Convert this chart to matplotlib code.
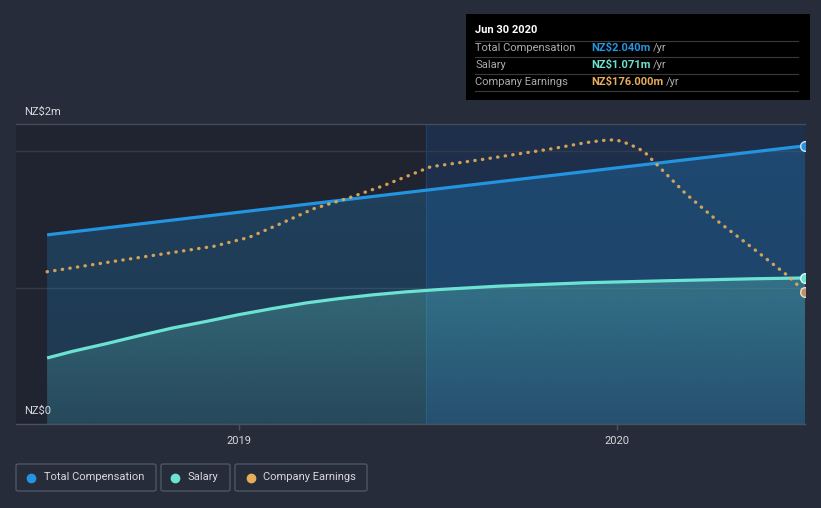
import matplotlib
matplotlib.use("Agg")
import matplotlib.pyplot as plt
import matplotlib.dates as mdates
import matplotlib.colors as mcolors
import numpy as np
import pandas as pd
from matplotlib.patches import FancyBboxPatch

# ---------------- data ----------------
total_dates = ["2018-06-30", "2019-06-30", "2020-06-30"]
total_values = [1.387, 1.714, 2.040]  # NZ$ m

salary_dates = ["2018-06-30", "2018-07-24", "2018-08-26", "2018-09-27", "2018-10-29",
                "2018-12-01", "2019-01-01", "2019-02-02", "2019-03-07", "2019-04-08",
                "2019-05-10", "2019-06-11", "2019-07-13", "2019-09-09", "2019-12-02",
                "2020-02-20", "2020-05-11", "2020-06-30"]
salary_values = [0.484, 0.532, 0.589, 0.648, 0.704, 0.753, 0.802, 0.846, 0.888, 0.920,
                 0.947, 0.969, 0.986, 1.011, 1.036, 1.051, 1.065, 1.071]

earn_dates = ["2018-06-30", "2018-09-03", "2018-12-08", "2019-01-11", "2019-02-10",
              "2019-03-14", "2019-04-16", "2019-05-19", "2019-07-05", "2019-08-25",
              "2019-10-30", "2019-12-01", "2019-12-17", "2019-12-30", "2020-01-07",
              "2020-01-19", "2020-01-27", "2020-02-03", "2020-03-07", "2020-04-09",
              "2020-05-12", "2020-06-14", "2020-06-30"]
earn_values = [203, 217, 237, 249, 267, 287, 301, 317, 343, 353, 367, 375, 378, 379, 376,
               369, 363, 353, 307, 268, 233, 197, 176]  # NZ$ m

y_tick_labels = ["NZ$0", "NZ$2m"]
x_ticks = ["2019-01-01", "2020-01-01"]
x_tick_labels = ["2019", "2020"]
legend_labels = ["Total Compensation", "Salary", "Company Earnings"]
tooltip_title = "Jun 30 2020"
tooltip_rows = [("Total Compensation", "NZ$2.040m"), ("Salary", "NZ$1.071m"),
                ("Company Earnings", "NZ$176.000m")]

# ---------------- style ----------------
BG = "#262c39"
PLOT_BG = "#1f2430"
C_TOTAL = "#2394df"
C_SAL = "#6ce3d2"
C_EARN = "#e8ad58"
TXT = "#d6d8dc"
GRID = "#343b48"
FONT = ["Roboto", "DejaVu Sans"]
plt.rcParams["font.family"] = FONT

W, H = 821, 508
fig = plt.figure(figsize=(W / 100, H / 100), dpi=100, facecolor=BG)

L, R, T, B = 16, 805, 124, 424
ax = fig.add_axes([L / W, 1 - B / H, (R - L) / W, (B - T) / H])
ax.set_facecolor(PLOT_BG)

td = pd.to_datetime(total_dates)
sd = pd.to_datetime(salary_dates)
ed = pd.to_datetime(earn_dates)

xmin = pd.Timestamp("2018-05-31")
xmax = pd.Timestamp("2020-06-30")
YMAX = 2.2
ax.set_xlim(xmin, xmax)
ax.set_ylim(0, YMAX)

# highlight last year
ax.axvspan(pd.Timestamp("2019-06-30"), xmax, color="#1a4a8a", alpha=0.3, lw=0, zorder=0)
ax.axvline(pd.Timestamp("2019-06-30"), color="#1f4e85", lw=0.8, alpha=0.6, zorder=0)

for yv in [1, 2]:
    ax.axhline(yv, color=GRID, lw=1, zorder=1)


def gradient_fill(x, y, color, a_top, a_bot, z):
    poly = ax.fill_between(x, y, 0, color="none", lw=0, zorder=z)
    rgb = mcolors.to_rgb(color)
    top = max(y)
    n = 256
    img = np.zeros((n, 1, 4))
    img[:, 0, :3] = rgb
    img[:, 0, 3] = np.linspace(a_top, a_bot, n)
    x0 = mdates.date2num(x[0])
    x1 = mdates.date2num(x[-1])
    im = ax.imshow(img, aspect="auto", extent=[x0, x1, 0, top], origin="upper",
                   zorder=z, interpolation="bilinear")
    path = poly.get_paths()[0]
    im.set_clip_path(path, transform=ax.transData)


gradient_fill(td, total_values, C_TOTAL, 0.26, 0.18, 2)
gradient_fill(sd, salary_values, C_SAL, 0.28, 0.10, 3)
ax.set_xlim(xmin, xmax)
ax.set_ylim(0, YMAX)

ax.plot(td, total_values, color=C_TOTAL, lw=2.3, zorder=5, solid_capstyle="butt")
ax.plot(sd, salary_values, color=C_SAL, lw=2.3, zorder=5, solid_capstyle="butt",
        solid_joinstyle="round")

ax.plot(td[-1:], total_values[-1:], "o", ms=7, mfc=C_TOTAL, mec="#cfe6fa", mew=1, zorder=7)
ax.plot(sd[-1:], salary_values[-1:], "o", ms=7, mfc=C_SAL, mec="#dff7f3", mew=1, zorder=7)

ax2 = ax.twinx()
ax2.set_ylim(0, 400)
ax2.set_xlim(xmin, xmax)
ax2.plot(ed, earn_values, color=C_EARN, lw=2.4, ls=(0, (0.1, 2.2)), dash_capstyle="round",
         zorder=6, alpha=0.9)
ax2.plot(ed[-1:], earn_values[-1:], "o", ms=7, mfc="#b8926a", mec="#e8dccb", mew=1, zorder=7)
ax2.axis("off")

# axes styling
for s in ["left", "right"]:
    ax.spines[s].set_visible(False)
ax.spines["top"].set_color("#454c59")
ax.spines["top"].set_linewidth(1)
ax.spines["bottom"].set_color("#4a515e")
ax.spines["bottom"].set_linewidth(1)
ax.set_yticks([])
ax.set_xticks(pd.to_datetime(x_ticks))
ax.set_xticklabels(x_tick_labels)
ax.tick_params(axis="x", colors="#4a515e", length=4, width=1, labelcolor=TXT,
               labelsize=8, pad=5)

# y labels as figure text
fig.text(24 / W, 1 - 112 / H, y_tick_labels[1], color=TXT, fontsize=8, va="center", ha="left")
fig.text(24 / W, 1 - 411 / H, y_tick_labels[0], color=TXT, fontsize=8, va="center", ha="left")

# legend boxes
boxes = [(16, 156, 31, 44, C_TOTAL), (161, 230, 175, 187, C_SAL), (235, 367, 251, 263, C_EARN)]
for (x0, x1, dx, tx, c), lab in zip(boxes, legend_labels):
    p = FancyBboxPatch((x0 / W, 1 - 491 / H), (x1 - x0) / W, 27 / H,
                       boxstyle="round,pad=0,rounding_size=0.003", transform=fig.transFigure,
                       fc="none", ec="#4f5663", lw=1)
    fig.add_artist(p)
    fig.add_artist(plt.Line2D([dx / W], [1 - 477.5 / H], marker="o", ms=6, color=c,
                              transform=fig.transFigure, ls=""))
    fig.text(tx / W, 1 - 477.5 / H, lab, color=TXT, fontsize=8, va="center", ha="left")

# tooltip
tip = FancyBboxPatch((466 / W, 1 - 100 / H), (810 - 466) / W, (100 - 14) / H,
                     boxstyle="square,pad=0", transform=fig.transFigure, fc="#000000", ec="none")
fig.add_artist(tip)
fig.text(475 / W, 1 - 30 / H, tooltip_title, color="white", fontsize=8, fontweight="bold",
         va="center", ha="left")
row_y = [48, 65, 82]
sep_y = [41, 57, 74, 91]
for yy in sep_y:
    fig.add_artist(plt.Line2D([475 / W, 798 / W], [1 - yy / H, 1 - yy / H], color="#3a3a3a",
                              lw=0.8, transform=fig.transFigure))
val_colors = [C_TOTAL, C_SAL, C_EARN]
for (lab, val), yy, c in zip(tooltip_rows, row_y, val_colors):
    fig.text(475 / W, 1 - yy / H, lab, color="#a9abae", fontsize=8, va="center", ha="left")
    t = fig.text(591 / W, 1 - yy / H, val, color=c, fontsize=8, fontweight="bold",
                 va="center", ha="left")
    fig.canvas.draw()
    bb = t.get_window_extent()
    fig.text((bb.x1 + 3) / W, 1 - yy / H, "/yr", color="#a9abae", fontsize=8, va="center",
             ha="left")

fig.savefig("out.png", dpi=100, facecolor=BG)
